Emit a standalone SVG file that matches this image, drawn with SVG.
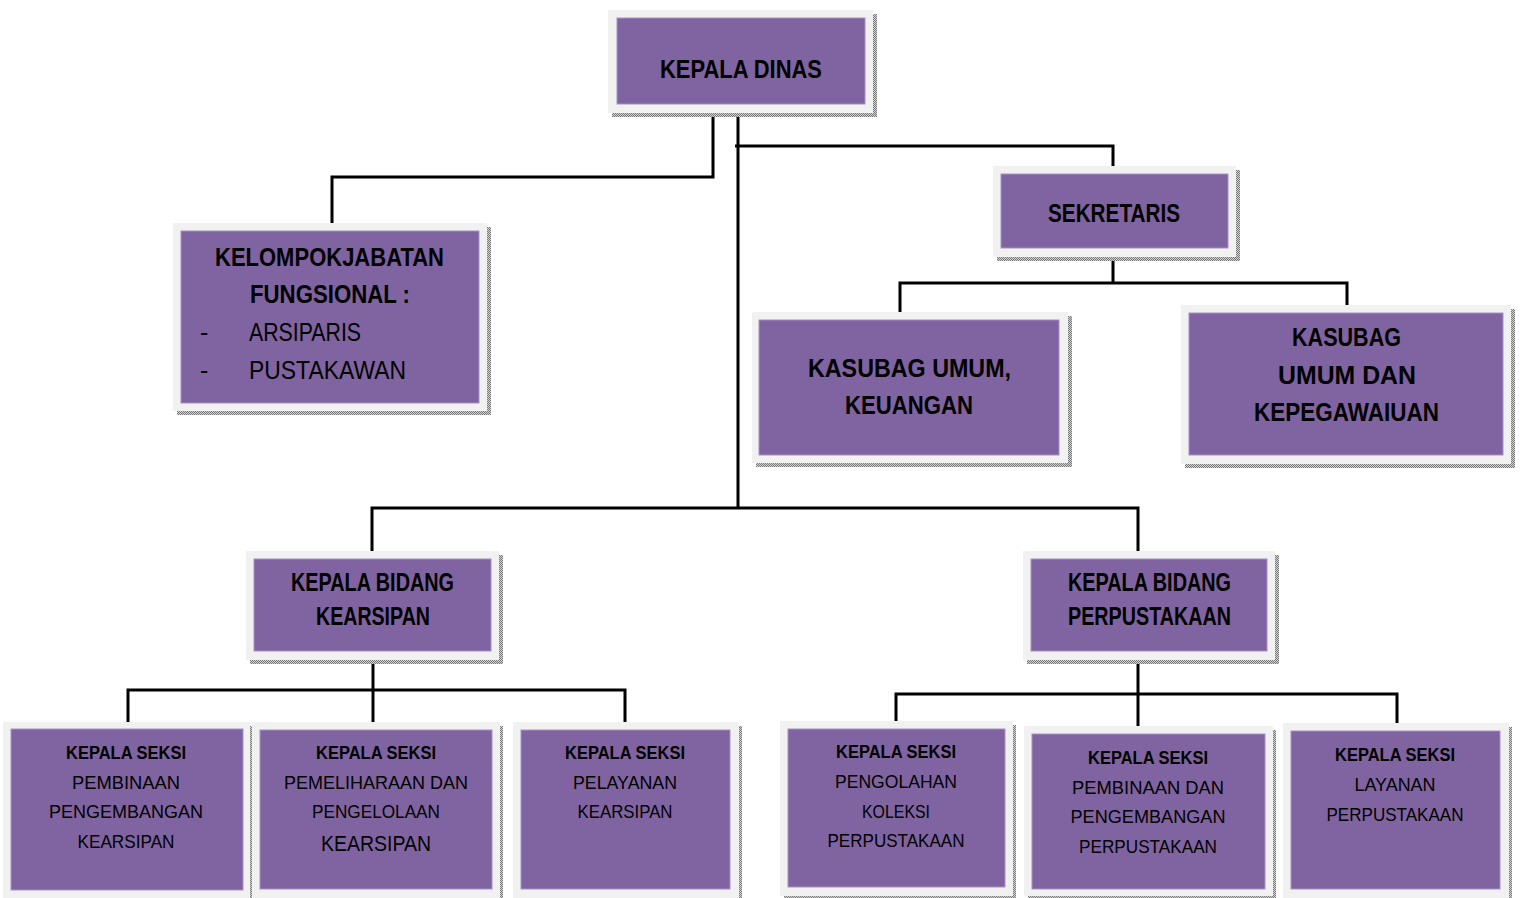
<svg xmlns="http://www.w3.org/2000/svg" width="1520" height="898" viewBox="0 0 1520 898">
<defs>
<pattern id="dots" width="2" height="2" patternUnits="userSpaceOnUse"><rect width="2" height="2" fill="#d0d0d0"/><rect width="1" height="1" fill="#7a7a7a"/><rect x="1" y="1" width="1" height="1" fill="#7a7a7a"/></pattern>
<style>
.frame{fill:#f1f1f1}
.shadow{fill:url(#dots)}
.box{fill:#8064a2;stroke:#a692c2;stroke-width:1}
.t{font-family:"Liberation Sans","DejaVu Sans",sans-serif;fill:#000;text-anchor:middle}
.b{font-weight:bold}
.l{text-anchor:start}
.big{font-size:25px}
.sm{font-size:19px}
.conn{fill:none;stroke:#000;stroke-width:3}
</style>
</defs>
<rect width="1520" height="898" fill="#fff"/>

<g id="connectors">
<polyline class="conn" points="713,113 713,177 332,177 332,224"/>
<line class="conn" x1="738" y1="113" x2="738" y2="509"/>
<polyline class="conn" points="735,146 1113,146 1113,166"/>
<line class="conn" x1="1113" y1="257" x2="1113" y2="283"/>
<polyline class="conn" points="900,313 900,283 1347,283 1347,305"/>
<polyline class="conn" points="372,551 372,508 1138,508 1138,551"/>
<line class="conn" x1="373" y1="660" x2="373" y2="722"/>
<polyline class="conn" points="128,722 128,690 625,690 625,722"/>
<line class="conn" x1="1138" y1="660" x2="1138" y2="727"/>
<polyline class="conn" points="896,722 896,694 1397,694 1397,727"/>
</g>

<g id="kepala-dinas">
<rect class="shadow" x="612" y="113" width="265" height="4"/><rect class="shadow" x="873" y="14" width="4" height="103"/>
<rect class="frame" x="608" y="10" width="265" height="103"/>
<rect class="box" x="617" y="18" width="248" height="86"/>
<text class="t b big" x="741" y="78" textLength="162" lengthAdjust="spacingAndGlyphs">KEPALA DINAS</text>
</g>

<g id="kelompok-jabatan">
<rect class="shadow" x="177" y="411" width="314" height="4"/><rect class="shadow" x="487" y="227" width="4" height="188"/>
<rect class="frame" x="173" y="223" width="314" height="188"/>
<rect class="box" x="181" y="231" width="298" height="172"/>
<text class="t b big" x="329.5" y="266" textLength="229" lengthAdjust="spacingAndGlyphs">KELOMPOKJABATAN</text>
<text class="t b big" x="330" y="303" textLength="160" lengthAdjust="spacingAndGlyphs">FUNGSIONAL :</text>
<text class="t big l" x="200" y="341">-</text>
<text class="t big l" x="249" y="341" textLength="112" lengthAdjust="spacingAndGlyphs">ARSIPARIS</text>
<text class="t big l" x="200" y="379">-</text>
<text class="t big l" x="249" y="379" textLength="157" lengthAdjust="spacingAndGlyphs">PUSTAKAWAN</text>
</g>

<g id="sekretaris">
<rect class="shadow" x="997" y="257" width="243" height="4"/><rect class="shadow" x="1236" y="170" width="4" height="91"/>
<rect class="frame" x="993" y="166" width="243" height="91"/>
<rect class="box" x="1001" y="174" width="227" height="74"/>
<text class="t b big" x="1114" y="222" textLength="132" lengthAdjust="spacingAndGlyphs">SEKRETARIS</text>
</g>

<g id="kasubag-umum-keuangan">
<rect class="shadow" x="756" y="463" width="316" height="4"/><rect class="shadow" x="1068" y="316" width="4" height="151"/>
<rect class="frame" x="752" y="312" width="316" height="151"/>
<rect class="box" x="759" y="320" width="300" height="135"/>
<text class="t b big" x="909.5" y="377" textLength="203" lengthAdjust="spacingAndGlyphs">KASUBAG UMUM,</text>
<text class="t b big" x="909" y="414" textLength="128" lengthAdjust="spacingAndGlyphs">KEUANGAN</text>
</g>

<g id="kasubag-umum-kepegawaian">
<rect class="shadow" x="1185" y="464" width="330" height="4"/><rect class="shadow" x="1511" y="309" width="4" height="159"/>
<rect class="frame" x="1181" y="305" width="330" height="159"/>
<rect class="box" x="1189" y="313" width="314" height="142"/>
<text class="t b big" x="1346.5" y="346" textLength="109" lengthAdjust="spacingAndGlyphs">KASUBAG</text>
<text class="t b big" x="1347" y="384" textLength="138" lengthAdjust="spacingAndGlyphs">UMUM DAN</text>
<text class="t b big" x="1346.5" y="421" textLength="185" lengthAdjust="spacingAndGlyphs">KEPEGAWAIUAN</text>
</g>

<g id="kabid-kearsipan">
<rect class="shadow" x="250" y="660" width="253" height="4"/><rect class="shadow" x="499" y="555" width="4" height="109"/>
<rect class="frame" x="246" y="551" width="253" height="109"/>
<rect class="box" x="254" y="559" width="237" height="92"/>
<text class="t b big" x="372.5" y="591" textLength="163" lengthAdjust="spacingAndGlyphs">KEPALA BIDANG</text>
<text class="t b big" x="373" y="625" textLength="114" lengthAdjust="spacingAndGlyphs">KEARSIPAN</text>
</g>

<g id="kabid-perpustakaan">
<rect class="shadow" x="1027" y="660" width="252" height="4"/><rect class="shadow" x="1275" y="555" width="4" height="109"/>
<rect class="frame" x="1023" y="551" width="252" height="109"/>
<rect class="box" x="1031" y="559" width="236" height="92"/>
<text class="t b big" x="1149.5" y="591" textLength="163" lengthAdjust="spacingAndGlyphs">KEPALA BIDANG</text>
<text class="t b big" x="1149.5" y="625" textLength="163" lengthAdjust="spacingAndGlyphs">PERPUSTAKAAN</text>
</g>

<g id="seksi-pembinaan-kearsipan">
<rect class="shadow" x="250" y="726" width="3" height="172"/>
<rect class="frame" x="3" y="722" width="247" height="176"/>
<rect class="box" x="11" y="729" width="232" height="161"/>
<text class="t b sm" x="126" y="759" textLength="120" lengthAdjust="spacingAndGlyphs">KEPALA SEKSI</text>
<text class="t sm" x="126" y="789" textLength="108" lengthAdjust="spacingAndGlyphs">PEMBINAAN</text>
<text class="t sm" x="126" y="818" textLength="154" lengthAdjust="spacingAndGlyphs">PENGEMBANGAN</text>
<text class="t sm" x="126" y="848" textLength="97" lengthAdjust="spacingAndGlyphs">KEARSIPAN</text>
</g>

<g id="seksi-pemeliharaan-kearsipan">
<rect class="shadow" x="500" y="726" width="3" height="172"/>
<rect class="frame" x="252" y="722" width="248" height="176"/>
<rect class="box" x="260" y="730" width="232" height="159"/>
<text class="t b sm" x="376" y="759" textLength="120" lengthAdjust="spacingAndGlyphs">KEPALA SEKSI</text>
<text class="t sm" x="376" y="789" textLength="184" lengthAdjust="spacingAndGlyphs">PEMELIHARAAN DAN</text>
<text class="t sm" x="376" y="818" textLength="128" lengthAdjust="spacingAndGlyphs">PENGELOLAAN</text>
<text class="t" style="font-size:22px" x="376" y="851" textLength="110" lengthAdjust="spacingAndGlyphs">KEARSIPAN</text>
</g>

<g id="seksi-pelayanan-kearsipan">
<rect class="shadow" x="739" y="726" width="3" height="172"/>
<rect class="frame" x="513" y="722" width="226" height="176"/>
<rect class="box" x="521" y="730" width="209" height="159"/>
<text class="t b sm" x="625" y="759" textLength="120" lengthAdjust="spacingAndGlyphs">KEPALA SEKSI</text>
<text class="t sm" x="625" y="789" textLength="104" lengthAdjust="spacingAndGlyphs">PELAYANAN</text>
<text class="t sm" x="625" y="818" textLength="95" lengthAdjust="spacingAndGlyphs">KEARSIPAN</text>
</g>

<g id="seksi-pengolahan-koleksi">
<rect class="shadow" x="784" y="896" width="232" height="2"/><rect class="shadow" x="1013" y="725" width="3" height="173"/>
<rect class="frame" x="780" y="721" width="233" height="175"/>
<rect class="box" x="788" y="729" width="217" height="158"/>
<text class="t b sm" x="896" y="758" textLength="120" lengthAdjust="spacingAndGlyphs">KEPALA SEKSI</text>
<text class="t sm" x="896" y="788" textLength="122" lengthAdjust="spacingAndGlyphs">PENGOLAHAN</text>
<text class="t sm" x="896" y="818" textLength="68" lengthAdjust="spacingAndGlyphs">KOLEKSI</text>
<text class="t sm" x="896" y="847" textLength="137" lengthAdjust="spacingAndGlyphs">PERPUSTAKAAN</text>
</g>

<g id="seksi-pembinaan-perpustakaan">
<rect class="shadow" x="1028" y="896" width="248" height="2"/><rect class="shadow" x="1273" y="730" width="3" height="168"/>
<rect class="frame" x="1024" y="726" width="249" height="170"/>
<rect class="box" x="1032" y="734" width="233" height="155"/>
<text class="t b sm" x="1148" y="764" textLength="120" lengthAdjust="spacingAndGlyphs">KEPALA SEKSI</text>
<text class="t sm" x="1148" y="794" textLength="152" lengthAdjust="spacingAndGlyphs">PEMBINAAN DAN</text>
<text class="t sm" x="1148" y="823" textLength="155" lengthAdjust="spacingAndGlyphs">PENGEMBANGAN</text>
<text class="t sm" x="1148" y="853" textLength="138" lengthAdjust="spacingAndGlyphs">PERPUSTAKAAN</text>
</g>

<g id="seksi-layanan-perpustakaan">
<rect class="shadow" x="1509" y="727" width="3" height="171"/>
<rect class="frame" x="1283" y="723" width="226" height="175"/>
<rect class="box" x="1291" y="731" width="209" height="158"/>
<text class="t b sm" x="1395" y="761" textLength="120" lengthAdjust="spacingAndGlyphs">KEPALA SEKSI</text>
<text class="t sm" x="1395" y="791" textLength="81" lengthAdjust="spacingAndGlyphs">LAYANAN</text>
<text class="t sm" x="1395" y="821" textLength="137" lengthAdjust="spacingAndGlyphs">PERPUSTAKAAN</text>
</g>
</svg>
